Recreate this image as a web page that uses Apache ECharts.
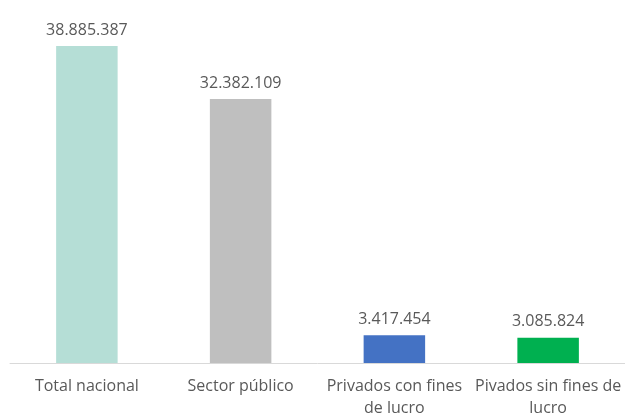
<!DOCTYPE html>
<html>
<head>
<meta charset="utf-8">
<script src="https://cdn.jsdelivr.net/npm/echarts@6/dist/echarts.min.js"></script>
<style>
  html, body { margin: 0; padding: 0; background: #ffffff; }
  #chart { width: 625px; height: 417px; }
</style>
</head>
<body>
<div id="chart"></div>
<script>
// Categories (axis labels, with line breaks as shown under the bars)
const categories = [
  'Total nacional',
  'Sector público',
  'Privados con fines\nde lucro',
  'Pivados sin fines de\nlucro'
];
// Values per category
const values = [38885387, 32382109, 3417454, 3085824];
// Fill colour for each bar
const barColors = ['#b5ded6', '#bfbfbf', '#4472c4', '#00b050'];

const fontFamily = '"Open Sans", "Liberation Sans", sans-serif';

function formatThousands(v) {
  return String(v).replace(/\B(?=(\d{3})+(?!\d))/g, '.');
}

const chart = echarts.init(document.getElementById('chart'));
chart.setOption({
  animation: false,
  grid: {
    left: 10, right: 0, top: 37, bottom: 54,
    containLabel: false,
    outerBoundsMode: 'none'
  },
  xAxis: {
    type: 'category',
    data: categories,
    axisLine: { show: true, lineStyle: { color: '#d9d9d9', width: 1 } },
    axisTick: { show: false },
    axisLabel: {
      interval: 0,
      color: '#595959',
      fontFamily: fontFamily,
      fontSize: 16,
      lineHeight: 22,
      margin: 12
    }
  },
  yAxis: {
    type: 'value',
    min: 0,
    max: 40000000,
    show: false,
    splitLine: { show: false }
  },
  series: [{
    type: 'bar',
    barWidth: '40%',
    data: values.map((v, i) => ({ value: v, itemStyle: { color: barColors[i] } })),
    label: {
      show: true,
      position: 'top',
      distance: 8,
      color: '#595959',
      fontFamily: fontFamily,
      fontSize: 16,
      formatter: p => formatThousands(p.value)
    }
  }]
});
</script>
</body>
</html>
